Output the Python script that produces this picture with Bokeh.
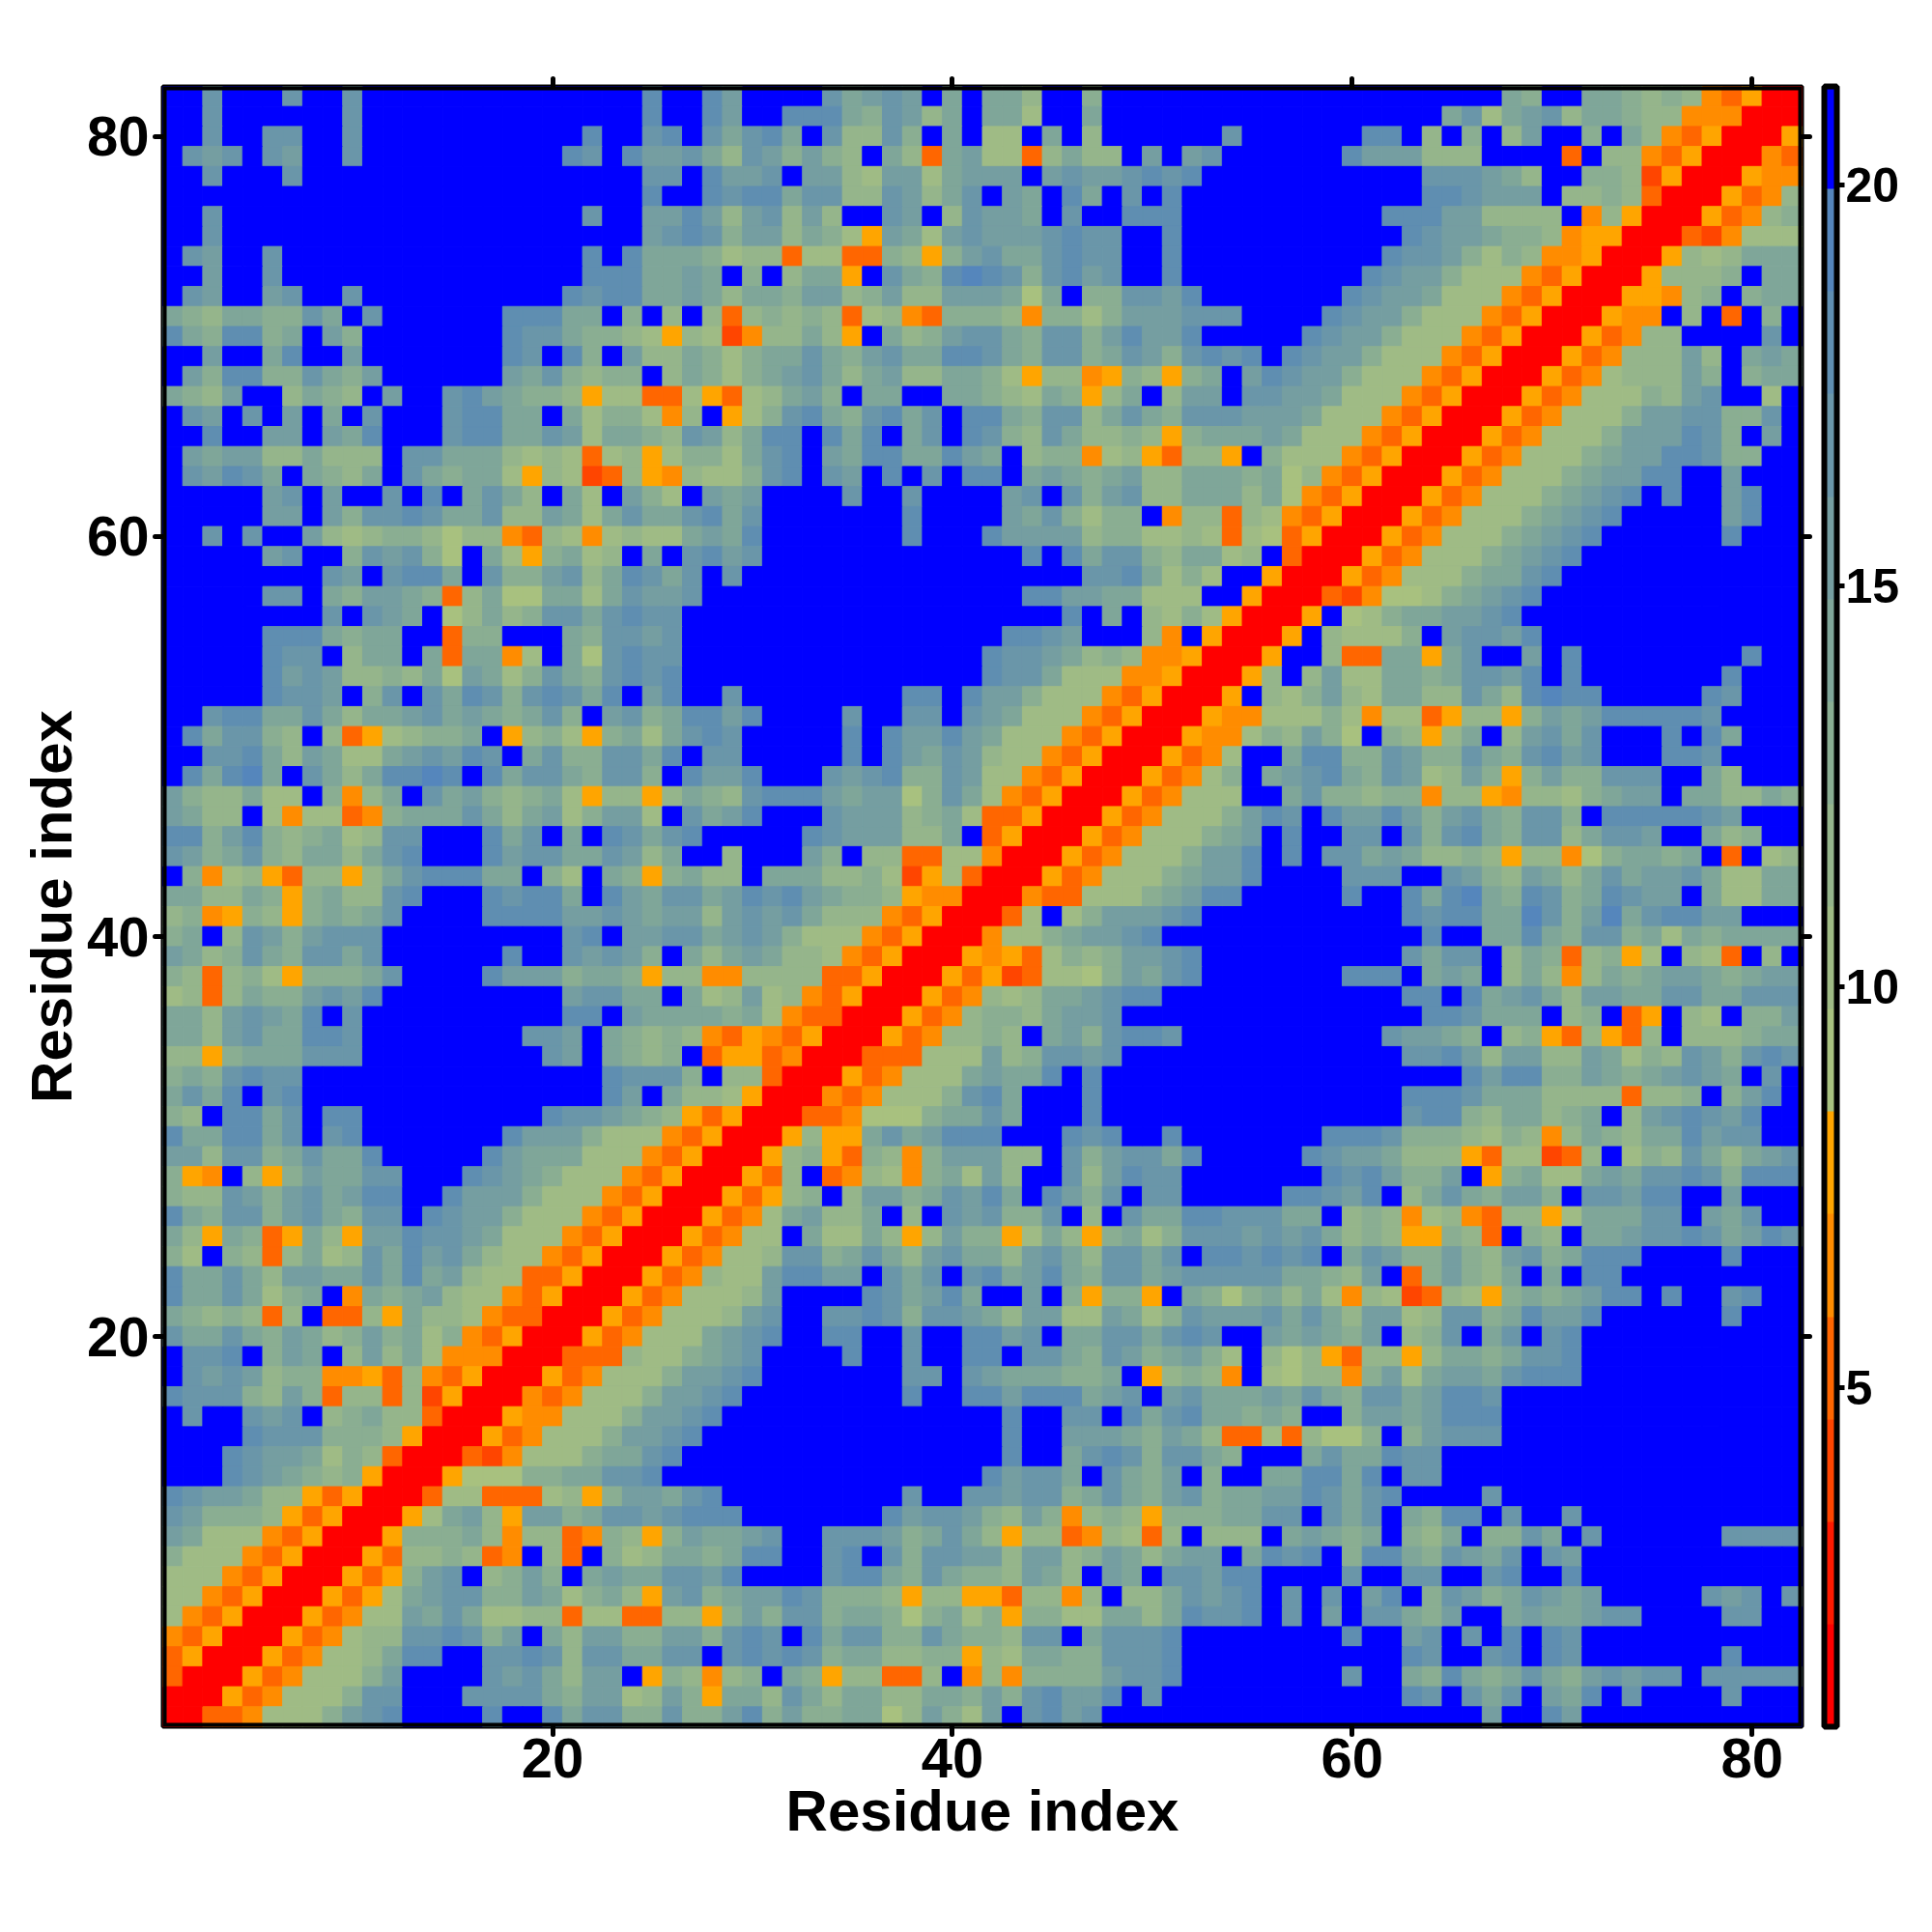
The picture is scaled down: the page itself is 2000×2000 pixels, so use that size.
from bokeh.embed import file_html
from bokeh.resources import INLINE
from bokeh.plotting import figure
from bokeh.models import (ColumnDataSource, LinearColorMapper, ColorBar, FixedTicker,
                          LinearAxis, Range1d, BoxAnnotation)
from bokeh.transform import transform

N_RES = 82
X_TICKS = [20, 40, 60, 80]
BAR_TICKS = [5, 10, 15, 20]
AXIS_TITLE = "Residue index"
VALUE_LOW = 0.77
VALUE_HIGH = 21.23

# distance read per band of the colour scale
LEVELS = {"X": 1.4, "r": 4.0, "R": 5.2, "O": 6.5, "Y": 7.8, "a": 9.1, "b": 10.4, "c": 11.6,
          "d": 12.9, "e": 14.2, "f": 15.5, "g": 16.8, "h": 18.1, "i": 19.3, "B": 20.6}
PALETTE = ["#FF0000", "#FF1A00", "#FF4500", "#FF6600", "#FF8C00", "#FFA500",
           "#A8C17F", "#9FBB85", "#95B58B", "#8AAE92", "#7FA699", "#759EA1",
           "#6A96A9", "#5F8EB1", "#5586BC", "#0000FF"]

# rows from y=82 (top) down to y=1; residues 1-28
LEFT = """BBgBBBgBBg BBBBBBBBBB BBBBhBBh
BBgBBBBBBg BBBBBBBBBB BBBBhBBh
BBgBBggBBg BBBBBBBBBB BhBBghBg
BgfgBgfBBg BBBBBBBBBB hgBhffge
BBgBBBgBBB BBBBBBBBBB BBBBggBh
BBBBBBBBBB BBBBBBBBBB BBBBhBBh
BBgBBBBBBB BBBBBBBBBB BgBBffhf
BBgBBBBBBB BBBBBBBBBB BBBBfghg
BgfBBgBBBB BBBBBBBBBB BhBheeed
BBfBBgBBBB BBBBBBBBBB Bhhheefe
BgfBBfgBBg BBBBBBBBBB hghheefe
edceeddgeB gBBBBBBhhh eeBdBcBc
hedhhdeBfd BBBBBBBhgg eddcbYcb
BBfBBehBBf BBBBBBBhgB hdBfcced
Bfdhhddged fBBBBBBfeg dcddBced
edcfBBcedc BfBBghfedd cYbbRRbY
BgfBgBfBeB gBBBghheeB ebddbOcB
BBhBBffBfe hBBBghheeg fbeedcgf
Bfeffccecc cBggeeecbc bRbcYbdd
BgfhgeBedc eBgedeebYc brRcYOcb
BBBBBfgBfB BgBhBegecB ebBfdbBf
BBBBBffBfd gghgeegccf ebegeegh
BBgBgBBfcb cddcaccORc bObcbbef
BBBBBfgBBd gfgdaBebYd ebcBeBgh
BBBBBBBBgf BghheBgddf gcehgegB
BBBBBggBed ffedRceaae ebegffgB
BBBBBBBBgB gfeBacecdg geghggBB
BBBBBhhhed eeBBRddBBB edggfgBB
BBBBBhggBc eeBeReeObB eaghggBB
BBBBBhfgfc cdceafebdg edghghBB
BBBBBhggfB dgBgehgdgh gehBfhBB
BBghheegec eefgefedeg dBfgdehh
BheggdcBcR YbcddeBYcd bYdebegh
BBgghecfeb befgfhgBeg ddggehBg
BhehieBgec ehhihBhegg edggdBhf
fdccebbBdO ceBgefdcde bYccYced
feccBbObbR Odeeegecef bdffbBge
hhdfhdcdeb cggBBBhegB eBhgeghB
gfdegdceec eghBBBhfgg eegfceBB
BdObcYRccY ceghhheeBd bBedYdec
eeccedYdec cghBBBhghh eBhfegge
cdOYdcYded egBBBBhhhh ffgfeffc
deBcgfdfgg gBBBBBBBBB ghBffgge
fecdgedgge gBBBBBBhBB gfgfdBec
dcRcdbYddd egBBBBhfff deedYccO
bcRceddfgf hBBBBBBBBB fggeeBeb
eecfgfehBg BBBBBBBBBB hhBfeeee
eecfgeehhg BBBBBBBBgg fBedcdcO
ccYdeeeggg BBBBBBBBBg fBedcdBR
dedghggBBB BBBBBBBBBB BBhgggdB
egehBghBBB BBBBBBBBBB BBhfBecc
dcBhhegBhh BBBBBBBBBh ggfedcYR
heehhegBgh BBBBBBBhff fdbbbORY
ffcggdegee hBBBBBhfee ebbbORYX
dYOBcYdfee ggBBBhgfed bbbORYXX
dccgfdfgef hhBBhfffdb bbORYXXX
hedggdfged ggBhgffdbb bORYXXXY
ecYedRYecY ffhggfebbb ORYXXXYR
dbBdcRcebc gehfgecbbO RYXXXYRO
heegecffee gehefcbbRR YXXXYROc
heegebdeBO edefcbbORY XXXYRObb
edcdcRcBRR cYeccbORRX XXYRObbb
geegedfecd fdebdORYXX XYRObbbe
BgghBdfeBc fcebOOOXXX RRRcbbde
BgfgfcddOO YRcORYXXXY RObbbdff
hgggdcfdRc cRcrYXXXOR Obbbdffg
BgBBgfgBcd eccRXXXYOO bbbdffgh
BBBBhgggdd dcYXXXYROb bbdffghB
BBBhgffebd cRXXXRrObb bdeeghBB
BBBhgfedcd YXXXYaaadd eegghBBB
hgffeccYRY XXXRbbRRRb cYdffegh
gfdddcYRYX XXYbefcYff deggfghh
febbbORYXX XYdddecOcc ROdcYdfe
dbbbORYXXX YRccdcROBc RBdbceed
bbbORYXXXY RYdfgBcdfd Befeeggf
bbORYXXXYR Ybefggddfe bdecYfgd
bORYXXXYRO bbfegebbcc RbbRRccY
ORYXXXYROb ccgghgdfBe cffddffd
RYXXXYRObb cehhBBgghg cggeeggB
RXXXYRObbb dfBBBBgfge cffBYdcO
XXXYRObbbd ggBBBgggge dffbcfdY
XXRRObbbdf ghBBBBhBBh eggddgdd"""

# residues 29-55
MIDDLE = """fBBBBgefgf BeBeecBBdB BBBBBBB
fBBhhhedgf ceBeebBBeB BBBBBBB
egheBgccgd BeBbbBeBcB BBBBBgB
cgfdfdcBec RefbbRcecc BfBfgBB
ffgBffcbff befffBfgff ghghBBB
ghheggccgf cegBfeBheB gBhBBBB
cfgcfcBBgf BcgffeBgBB hhhBBBB
dffcedbYfe bfgfffghgg BBhBBBB
bccRbbRRdc Ydfgeeghgg BBhBBBB
BdBceeYBge dhihgdghfg BBhBBBB
ceedffcdfc cfffeaeBdd ggfhBBB
RcdcdcRbcO RdddcOddbd fffgggB
rOccecYBec dfggedggdf hffhBBB
bdeegedfge ehhgedggde gfdghgh
bdefgecefc ceedbYccOY dcYdeBf
RbcefdBeeB BeedcbedYc eBcffBg
Ybdghedghe gBhhedggce gedgggf
cehhBhehBe gBhgdcgecc dcYdeee
beghBfehhe ehfeBcddOb cYRccYB
bdghBgfBhB gBhhBefede fcceeed
efBBBBgBBg BBBBfgBgdf gcceeec
egBBBBBBBh BBBBfegdbd dBOccRc
ehBBBBBBBh BBBhffffcd dbbcbRb
fgBBBBBBBB BBBBBhBheg gdceebc
gBBBBBBBBB BBBBBBBBgg hebdbBB
BBBBBBBBBB BBBBBhhffe ebbbBBY
BBBBBBBBBB BBBBBBBhBe BcbdbYX
BBBBBBBBBB BBBBhhgfBB BcOBYXX
BBBBBBBBBB BBBhggfecd cOOYXXX
BBBBBBBBBB BBBhggebbb OOYXXXY
gBBBBBBBBh hBhffdbbbO RYXXXYB
fhBBBBgBBg gBgfebbbOR YXXXYOO
gBBBBBhBhf fhfebbbORY XXXYOOb
gBBBBBhBhf egfcbbORYX XXYRObB
fhBBBgfghd dgfbbORYXX XYRObdB
cghhhfeffa dgebORYXXX YRObbbB
fhBBBgfffc debRRYXXXY RObbbdf
BBBBhgfffc ceBRYXXXYR Obbbdef
cBBBfdBccR RbbOXXXYRO bbbdffh
cBeeeccdbr YbRXXXYROb bbdeffh
fhghfeddcY OOXXXORRbb bdefhhB
fgfgecccOR YXXXRbBbdf ffghBBB
fgfdbbbORY XXXObbdeff ghBBBBB
efeccbORYX XXYOYRbdcd ffghBBB
OccccRRYXX XYRYrRbbad feghBBB
cfbcORYXXX YROcbceefg hhBBBBB
debORRXXXY ROcddceffg BBBBBBB
RYORYXXXYR OccdcBefdg hhgBBBB
YYROXXXRRR bbbfcdggfg BBBBBBB
ccRXXXYROb bbefeehBhB BBBBBBB
bYXXXORObb bdgheBBBhB BBBBBBB
YXXXRROaaa deegeBBBhB BBBBBBB
XXXYcYYege fhhhBBBhgh BBhBBBB
XXYcdYRdcO dfffccBgdf ggehBBB
XYRcBROcbO debfcBBgcf hggBBBB
YRYcdBcffd egfheBhfdg BggBBBB
RObefcceBc BgfgddgBcB geehhgg
ObbBebbecY cfddYbecYd ebdgggf
bbcggdegec fgeecfgecg gegBhhg
bbfhhffBge gBghefhedg gefgggg
bcfBBBBhge fheBBfBdYd dYBedad
cfgBBgghgd ggfecffbbf ebdgfff
fghBBhhBBg BBhhfgBeeg geghgBB
fgBBBBhBBg BBhhBggedg fdefdbB
ghBBBBBBBg gBgfeeedde BYcdcOB
hBBBBBBBBh BBhhfhhhef gBfgeee
BBBBBBBBBB BBBBhBBggB hegheed
BBBBBBBBBB BBBBhBBfff edfecRR
BBBBBBBBBB BBBBhBBegh gdggedB
BBBBBBBBBB BBBhfggeBg edfBdBB
BBBBBBBBBg BBggfggdeg edfgdee
hBBBBBBBhf ggfdcfdOcd cYdddee
efgBBgggfd egecYccROc bRcBccc
ehhBBghBgd ggffcffcdf eceffBe
hBBBBghhed geddcfecBf eBggfhh
effhgdddcY ccYYRccOcB ccegfgh
dfdggdeeda debdYddbbe ecehggh
ghgBheggdd geddcggBeg gghBBBB
ghghgdeecc ddYcbeeddg gghBBBB
cdBedYccRR cBOcOddddf gghBBBB
eecgeceecc eedfdghffh BgBBBBB
fhdfddeeac fdbfBghfgB BBBBBBB"""

# residues 56-82
RIGHT = """BBBBBBBBBB BBedBBeedc dcORYXX
BBBBBBBBBe gbefgceedc cOOOXXX
BBBBBhhBcB dBcfBBdBec ORYXXXY
BBBBhfffcc cBBBBRBccO RYXXXOR
BBBBBBBBgg gfecBBddcr YXXXYOO
BBBBBBBBhh gfffBccdcR XXXYROc
BBBBBBhhhf fccccBOcYX XXYROcd
BBBBBBBhgf feddcOYYXX XRrObbb
BBBBBBhggf dbdcOOYXXX Ycbceee
BBBBBhgffd bbbORYXXXY cccdBee
BBBBhgffeb bbORYXXXYY OcdBdee
BBBhgffdbb bORYXXXYOO BcBRBdB
BBhgffdbbb ORYXXXYROc cBBBBgB
BhgffdbbbO RYXXXYROcc cfcBefe
hgffdbbbOR YXXXYRObcc cfdBdee
gffebbbORY XXXYRObbbd cfgBBbB
ffebbbORYX XXYRObbbdf fggddgB
febbbORYXX XYRObbbdff fhgdBfB
dbbbORYXXX YRObbbdeff hhgddBB
eacORYXXXY RObbbdeffh hBBfBBB
eaORYXXXYR ObbbdefghB hBBfhBB
bORYXXXYRO bbbdefghBB BBBfhBB
aRYXXXYROb bbdefghBBB BBBhBBB
BRXXXYRObb bdefghBBBB BBBBBBB
YXXXYRObbb deeghBBBBB BBBBBBB
XXXRrOaabd efghBBBBBB BBBBBBB
XXYBabdeef fghBBBBBBB BBBBBBB
XYBcbbbdBf ggfhBBBBBB BBBBBBB
YBBcRReeYe gBBfBhBBBB BBBBhBB
cBcfbbeede ggfhBhBBBB BBBhBBB
cbdfcbeecc gechihhBBB BBhgBBB
bbbdbObbRY ccYdfefhhh hhgBBBB
dcfdaBdcYc eBcfgegBBB hBheBBB
Behhddgfdd gedghfgBBB hhgBBBB
efghedgfbc fdYdfddggg BBecBBB
BegddcddOc cYOccbdeff Beecced
hgBhffhfdf gedggdBhhh hhgfBBB
BhBBggBgdg hedggceggf BBecdBB
BhBggefecc dcYccOadee deBRBbc
BBBBgggBBg fdcfecegef fgebbee
BBBBhBBheh iedhgdehgf fBebbee
BBBBBBBhgh heeigdfieg hhffBBB
BBBBBBBBhB Beehedggde bedeeee
BBBBBBBgeg gBcedRcdYb BcbRBcB
BBBBhhhBef eBcecOcede ffedeff
BBBBBBBhhB hefgecffee ggeeggg
BBBBBBBBhh geeeBcdBRY BcbBddf
BBBBBBgffe dBcdYRcYRc Bcccdee
BBBBBBBggh fcffccfebd cgfdghg
BBBBBBBBBB hfhhddfede fgfeBgB
BBBBBBBhhh geeeccccRc cdBdfhB
BBBBBBBghh dceecdeBcf ghgfhBB
BBBhhhgddd cbdcOcedce ehfggBB
BBhgffeccc YRbbrRcBbd cgecefg
BBBhghfddf BYdebbefeg ghgdhhh
BhhgfhBceg edffdBggfh hBBfBBB
geeBcdcObc ORccYbeeeg gBfegBB
gfgecdcYYd cRBdcBeefg ghgefhg
hghBegfddf dcfgdehhhB BBBhBBB
geedcfBRdf dceBeBhhBB BBBBBBB
ecebOcbrRc bYdedefhhB hBBghBB
gegecffbcg gdehffhBBB BBBhBBB
fefedfBcdg BegBghBBBB BBBBBBB
cacYRccYce edegghBBBB BBBBBBB
baccOdfbef feghhhBBBB BBBBBBB
fegedggefh hgBBBBBBBB BBBBBBB
edBBdffefh hhBBBBBBBB BBBBBBB
bRcaadBdfg ggBBBBBBBB BBBBBBB
BBegeehggB BBBBBBBBBB BBBBBBB
eehhehBggB BBBBBBBBBB BBBBBBB
ffhgeghBBB BgBBBBBBBB BBBBBBB
ggBgegBedh hBgBBgBBBB BBBBBBB
BefedeBdce BddgeBgBBB BBBgggg
hghBdhhedg fegBgfBBBB BBBBBBB
BBBBgBBggB BghBBhBBBB BBBBBBB
BgBgBfhBdg fdegfefBBB BBgfgBg
BgBfBggedf BBefeefggB BBBggBB
BBBBhBBfgB gBhBhgBBBB BBBBBBB
BBBBBBBhgB BghBhgBBBB BBBhBBB
BBBBgBBedh edegedfgfg gBggggg
BBBBBBBhgB gegBfehBgB BBBgBBB
BBBBBBBBBB BfBBhfBBBB BBBBBBB"""


def rows_of(block, n):
    out = []
    for i, line in enumerate(block.split("\n")):
        s = line.replace(" ", "")
        if len(s) != n:
            print("row", i, "len", len(s), "expected", n)
        out.append(s.ljust(n, "B")[:n])
    return out


left_rows = rows_of(LEFT, 28)
mid_rows = rows_of(MIDDLE, 27)
right_rows = rows_of(RIGHT, 27)

xs, ys, vals = [], [], []
for i, (a, b, c) in enumerate(zip(left_rows, mid_rows, right_rows)):
    for j, ch in enumerate(a + b + c):
        xs.append(j + 1)
        ys.append(N_RES - i)
        vals.append(LEVELS[ch])

mapper = LinearColorMapper(palette=PALETTE, low=VALUE_LOW, high=VALUE_HIGH)
source = ColumnDataSource(dict(x=xs, y=ys, v=vals))

FONT = "Liberation Sans"

p = figure(frame_width=1697, frame_height=1698, output_backend="svg", toolbar_location=None,
           x_range=Range1d(0.5, 82.5), y_range=Range1d(0.5, 82.5),
           x_axis_label=AXIS_TITLE, y_axis_label=AXIS_TITLE,
           min_border_left=168, min_border_top=89, min_border_right=125, min_border_bottom=115,
           background_fill_color="white", border_fill_color="white")
p.rect("x", "y", width=1, height=1, source=source,
       fill_color=transform("v", mapper), line_color=transform("v", mapper), line_width=1)
p.grid.visible = False
p.outline_line_color = "black"
p.outline_line_width = 4

frame_box = BoxAnnotation(left=0.5, right=82.5, bottom=0.5, top=82.5, fill_color=None,
                          fill_alpha=0, line_color="black", line_alpha=1, line_width=8,
                          level="overlay")
p.add_layout(frame_box)

for ax in (p.xaxis[0], p.yaxis[0]):
    ax.ticker = FixedTicker(ticks=X_TICKS)
    ax.axis_line_color = None
    ax.major_tick_in = 0
    ax.major_tick_out = 8
    ax.minor_tick_line_color = None
    ax.major_tick_line_width = 5
    ax.major_tick_line_cap = "round"
    ax.major_label_text_font = FONT
    ax.major_label_text_font_style = "bold"
    ax.major_label_text_font_size = "58px"
    ax.major_label_text_color = "black"
    ax.axis_label_text_font = FONT
    ax.axis_label_text_font_style = "bold"
    ax.axis_label_text_font_size = "60px"
    ax.axis_label_text_color = "black"
p.xaxis[0].major_label_standoff = 4
p.xaxis[0].axis_label_standoff = -2
p.yaxis[0].major_label_standoff = 6
p.yaxis[0].axis_label_standoff = 0

for side in ("above", "right"):
    ax = LinearAxis(ticker=FixedTicker(ticks=X_TICKS))
    ax.axis_line_color = None
    ax.major_tick_in = 0
    ax.major_tick_out = 8
    ax.minor_tick_line_color = None
    ax.major_tick_line_width = 5
    ax.major_tick_line_cap = "round"
    ax.major_label_text_color = None
    ax.major_label_text_font_size = "0px"
    ax.major_label_standoff = 0
    p.add_layout(ax, side)

spacer = LinearAxis(ticker=FixedTicker(ticks=X_TICKS), axis_line_color=None, major_tick_in=0,
                    major_tick_out=15, major_tick_line_color=None, minor_tick_line_color=None,
                    major_label_text_color=None, major_label_text_font_size="0px",
                    major_label_standoff=0)
p.add_layout(spacer, "right")

cb = ColorBar(color_mapper=mapper, ticker=FixedTicker(ticks=BAR_TICKS), width=13,
              margin=31, padding=0, border_line_color=None, background_fill_color=None,
              bar_line_color="black", bar_line_width=6,
              major_tick_in=0, major_tick_out=8, major_tick_line_color="black",
              major_tick_line_width=5, minor_tick_line_color=None,
              major_label_text_font=FONT, major_label_text_font_style="bold",
              major_label_text_font_size="50px", major_label_text_color="black",
              label_standoff=1)
p.add_layout(cb, "right")

open("out.html", "w").write(file_html(p, INLINE))
